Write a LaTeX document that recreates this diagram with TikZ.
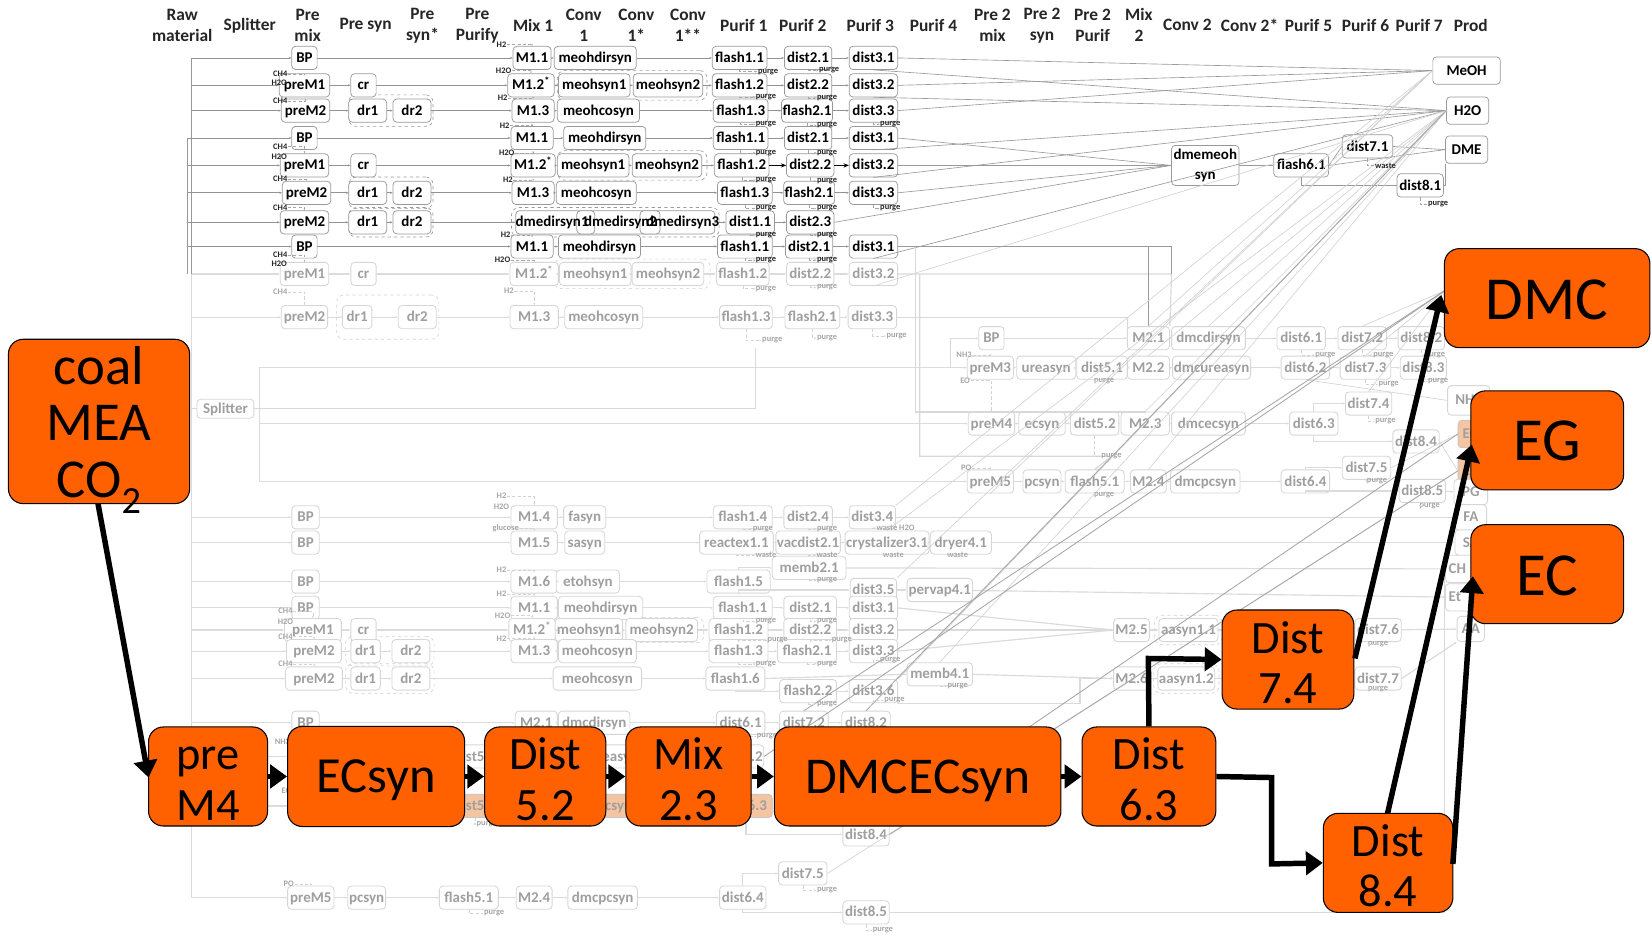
\documentclass[tikz,border=0pt]{standalone}
\usepackage{fontspec}
\setmainfont{Carlito}
\usetikzlibrary{arrows.meta}
\definecolor{bigorange}{HTML}{FF6000}
\definecolor{tint}{HTML}{F5C4A0}
\newcommand{\topup}[1]{\rule{0pt}{#1pt}}
\tikzset{
 box/.style={rectangle,rounded corners=3.5pt,fill=white,inner sep=1pt,minimum height=22pt,text height=10.5pt,text depth=1.8pt,font=\bfseries\fontsize{14.2}{16}\selectfont},
 dk/.style={box,draw=gray!80,text=black,line width=.7pt},
 fd/.style={box,draw=gray!32,text=gray!75,line width=.8pt},
 tn/.style={box,draw=gray!45,text=gray!75,fill=tint,line width=.8pt},
 dk line/.style={draw=gray!85,line width=.7pt,-{Stealth[length=2.5pt,width=2pt]}},
 fd line/.style={draw=gray!28,line width=1.1pt,-{Stealth[length=2.5pt,width=2pt]}},
 tn line/.style={fd line},
 dk diag/.style={draw=gray!80,line width=.6pt},
 fd diag/.style={draw=gray!35,line width=.6pt},
 md diag/.style={draw=gray!70,line width=.8pt},
 dk grp/.style={draw=gray!80,dashed,rounded corners=7pt,inner sep=0pt,line width=.6pt},
 fd grp/.style={draw=gray!35,dashed,rounded corners=7pt,inner sep=0pt,line width=.6pt},
 head/.style={align=center,font=\bfseries\fontsize{16.5}{20}\selectfont,text=black!85},
 dk lab/.style={inner sep=.5pt,font=\bfseries\fontsize{8}{8}\selectfont,text=black!85},
 fd lab/.style={inner sep=.5pt,font=\bfseries\fontsize{8}{8}\selectfont,text=gray!70},
 dk dsh/.style={draw=gray!70,densely dashed,line width=.4pt,-{Stealth[length=2pt,width=1.5pt]}},
 fd dsh/.style={draw=gray!35,densely dashed,line width=.4pt,-{Stealth[length=2pt,width=1.5pt]}},
 big/.style={rectangle,rounded corners=14pt,draw=black,line width=1pt,fill=bigorange,text=black,align=center,inner sep=0pt},
 thick arrow/.style={draw=black,line width=5.2pt,-{Triangle[length=16pt,width=22pt]}},
}
% name, style, start x, y, list of key/x/width/text
\newcommand{\frow}[5]{%
 \coordinate (#1-0) at (#3,#4);
 \foreach \rowN/\rowX/\rowW/\rowT [remember=\rowN as \rowP (initially 0)] in {#5}{
  \node[#2,minimum width=\rowW pt] (#1-\rowN) at (\rowX,#4) {\rowT};
  \draw[#2 line] (#1-\rowP) -- (#1-\rowN);
 }}
% style, list of name/x/y/target : input label with dashed elbow
\newcommand{\finp}[2]{%
 \foreach \labN/\labX/\labY/\labT/\labG in {#2}{
  \node[#1 lab] (\labN) at (\labX,\labY) {\labT};
  \draw[#1 dsh] (\labN.east) -| (\labG.north);
 }}
% style, list of name/x/y/text/source : purge label
\newcommand{\fpur}[2]{%
 \foreach \labN/\labX/\labY/\labT/\labG in {#2}{
  \node[#1 lab] (\labN) at (\labX,\labY) {\labT};
  \draw[#1 dsh] (\labG.south) |- (\labN.west);
 }}
\begin{document}
\begin{tikzpicture}[x=1pt,y=-1pt]
\useasboundingbox (0,0) rectangle (1568,890);
\fill[white] (0,0) rectangle (1568,890);

% headers
\foreach \hdN/\hdX/\hdT in {
 h1/173/{Raw\\material},h2/237/{Splitter},h3/292/{Pre\\mix},h4/347/{Pre syn},h5/401/{Pre\\syn*},h6/453/{Pre\\Purify},h7/506/{Mix 1},h8/554/{Conv\\1},h9/604/{Conv\\1*},h10/653/{Conv\\1**},h11/706/{Purif 1},h12/762/{Purif 2},h13/826/{Purif 3},h14/886/{Purif 4},h15/942/{Pre 2\\mix},h16/989/{Pre 2\\syn},h17/1037/{Pre 2\\Purif},h18/1081/{Mix\\2},h19/1127/{Conv 2},h20/1186/{Conv 2*},h21/1242/{Purif 5},h22/1296/{Purif 6},h23/1347/{Purif 7},h24/1396/{Prod}}{
 \node[head] (\hdN) at (\hdX,24) {\hdT};
}

% rails
\coordinate (railA) at (182,55);
\coordinate (railB) at (182,260);
\coordinate (railC) at (182,852);
\coordinate (railD) at (178,131);
\coordinate (railE) at (178,260);
\draw[draw=gray!28,line width=1.2pt] (railB) -- (railC);
\draw[draw=gray!80,line width=.7pt] (railA) -- (railB);
\draw[draw=gray!80,line width=.7pt] (railD) -- (railE);

% groups
\node[dk grp,minimum width=142pt,minimum height=28pt] (g2) at (600,81) {};
\node[dk grp,minimum width=80pt,minimum height=30pt] (g3) at (371,105) {};
\node[dk grp,minimum width=142pt,minimum height=28pt] (g5) at (600,157) {};
\node[dk grp,minimum width=80pt,minimum height=30pt] (g6) at (371,183) {};
\node[dk grp,minimum width=80pt,minimum height=28pt] (g7) at (371,211) {};
\node[dk grp,minimum width=197pt,minimum height=28pt] (g7b) at (584,211) {};
\node[fd grp,minimum width=148pt,minimum height=28pt] (g9) at (600,260) {};
\node[fd grp,minimum width=97pt,minimum height=42pt] (g10) at (368,301) {};
\node[fd grp,minimum width=148pt,minimum height=24pt] (g15) at (594,598) {};
\node[fd grp,minimum width=84pt,minimum height=28pt] (g16) at (370,618) {};
\node[fd grp,minimum width=84pt,minimum height=28pt] (g17) at (370,644) {};
\node[fd grp,minimum width=64pt,minimum height=28pt] (g18) at (1128,598) {};
\node[fd grp,minimum width=62pt,minimum height=28pt] (g19) at (1126,644) {};

% products
\node[dk,minimum width=64pt,minimum height=26pt] (MeOH) at (1392,67) {MeOH};
\node[dk,minimum width=40pt,minimum height=26pt] (H2O) at (1393,105) {H2O};
\node[dk,minimum width=40pt,minimum height=26pt] (DME) at (1392,142) {DME};
\node[fd,minimum width=40pt,minimum height=28pt] (NH3) at (1394,380) {NH3};
\node[tn,minimum width=24pt,minimum height=26pt] (pEG) at (1396,412) {EG};
\node[tn,minimum width=24pt,minimum height=26pt] (pEC) at (1396,447) {EC};
\node[fd,minimum width=32pt,minimum height=24pt] (PG) at (1396,467) {PG};
\node[fd,minimum width=30pt,minimum height=24pt] (FA) at (1396,491) {FA};
\node[fd,minimum width=30pt,minimum height=24pt] (SA) at (1396,515) {SA};
\node[fd,minimum width=42pt,minimum height=26pt,align=left,text width=36pt] (CH) at (1393,540) {CH};
\node[fd,minimum width=42pt,minimum height=26pt,align=left,text width=36pt] (Et) at (1393,567) {Et};
\node[fd,minimum width=26pt,minimum height=24pt] (AA) at (1396,597) {AA};

% dark rows
\frow{r1}{dk}{182}{55}{b/289/24/BP,m/505/36/M1.1,s/565/78/meohdirsyn,f/702/52/flash1.1,d/767/45/dist2.1,t/829/46/dist3.1}
\frow{r2}{dk}{182}{81}{p/289/48/preM1,c/345/24/cr,m/504/44/{M1.2\textsuperscript{*}},s/564/68/meohsyn1,u/634/66/meohsyn2,f/702/52/flash1.2,d/767/45/dist2.2,t/829/46/dist3.2}
\frow{r3}{dk}{182}{105}{p/290/46/preM2,c/349/36/dr1,u/391/36/dr2,m/506/40/M1.3,s/568/78/meohcosyn,f/703/52/flash1.3,d/766/46/flash2.1,t/829/46/dist3.3}
\frow{r4}{dk}{178}{131}{b/289/24/BP,m/505/40/M1.1,s/574/78/meohdirsyn,f/703/52/flash1.1,d/767/45/dist2.1,t/829/46/dist3.1}
\frow{r5}{dk}{178}{157}{p/289/46/preM1,c/345/24/cr,m/506/42/{M1.2\textsuperscript{*}},s/563/68/meohsyn1,u/633/66/meohsyn2,f/704/52/flash1.2,d/769/45/dist2.2,t/829/46/dist3.2}
\frow{r6}{dk}{178}{183}{p/291/46/preM2,c/349/36/dr1,u/391/36/dr2,m/506/40/M1.3,s/566/76/meohcosyn,f/707/52/flash1.3,d/768/46/flash2.1,t/829/46/dist3.3}
\frow{r7}{dk}{178}{211}{p/289/46/preM2,c/349/36/dr1,u/391/36/dr2,s/584/189/{},f/712/46/dist1.1,d/769/45/dist2.3}
\frow{r8}{dk}{178}{234}{b/289/24/BP,m/505/40/M1.1,s/569/78/meohdirsyn,f/707/52/flash1.1,d/768/45/dist2.1,t/829/46/dist3.1}
\node[dk,minimum width=17pt] (dm2) at (556,211) {};
\node[dk,minimum width=19pt] (dm3) at (617,211) {};
\node[dk lab,font=\bfseries\fontsize{14.2}{16}\selectfont,text=black] (dmt1) at (524,211) {dmedirsyn1};
\node[dk lab,font=\bfseries\fontsize{14.2}{16}\selectfont,text=black] (dmt2) at (589,211) {dmedirsyn2};
\node[dk lab,font=\bfseries\fontsize{14.2}{16}\selectfont,text=black] (dmt3) at (648,211) {dmedirsyn3};

% faded rows
\frow{r9}{fd}{182}{260}{p/289/46/preM1,c/345/24/cr,m/507/46/{M1.2\textsuperscript{*}},s/565/68/meohsyn1,u/634/68/meohsyn2,f/705/50/flash1.2,d/769/45/dist2.2,t/829/46/dist3.2}
\frow{r10}{fd}{182}{301}{p/289/44/preM2,c/339/28/dr1,u/396/36/dr2,m/507/46/M1.3,s/573/74/meohcosyn,f/708/50/flash1.3,d/771/52/flash2.1,t/828/46/dist3.3}
\frow{q1}{fd}{902}{321}{b/941/24/BP,m/1090/40/M2.1,s/1147/70/dmcdirsyn,f/1235/46/dist6.1,d/1293/46/dist7.2,t/1349/44/dist8.2}
\frow{q2}{fd}{246}{349}{p/940/44/preM3,a/993/56/ureasyn,e/1046/48/dist5.1,m/1090/40/M2.2,s/1150/74/dmcureasyn,f/1239/46/dist6.2,d/1296/48/dist7.3,t/1351/44/dist8.3}
\frow{q3}{fd}{246}{402}{p/941/44/preM4,a/989/44/ecsyn,e/1039/46/dist5.2,m/1087/46/M2.3,s/1147/70/dmcecsyn,f/1247/46/dist6.3}
\frow{q4}{fd}{246}{457}{p/940/44/preM5,a/989/36/pcsyn,e/1039/56/flash5.1,m/1090/34/M2.4,s/1144/66/dmcpcsyn,f/1239/46/dist6.4}
\node[fd,minimum width=44pt] (q3-7) at (1299,383) {dist7.4};
\node[fd,minimum width=44pt] (q3-8) at (1344,419) {dist8.4};
\node[fd,minimum width=46pt] (q4-7) at (1297,444) {dist7.5};
\node[fd,minimum width=44pt] (q4-8) at (1350,466) {dist8.5};

\frow{l1}{fd}{182}{491}{b/290/26/BP,m/507/44/M1.4,s/555/40/fasyn,f/705/56/flash1.4,d/767/46/dist2.4,t/828/44/dist3.4}
\frow{l2}{fd}{182}{515}{b/290/26/BP,m/507/44/M1.5,s/555/38/sasyn,f/699/70/reactex1.1,d/767/58/vacdist2.1,t/842/78/crystalizer3.1,w/912/58/dryer4.1}
\frow{l3}{fd}{182}{552}{b/290/26/BP,m/507/44/M1.6,s/558/60/etohsyn,f/701/60/flash1.5}
\node[fd,minimum width=70pt] (memb) at (768,539) {memb2.1};
\node[fd,minimum width=44pt] (l3-t) at (829,560) {dist3.5};
\node[fd,minimum width=62pt] (perv) at (892,560) {pervap4.1};
\draw[fd line] (l3-f.north) |- (memb.west);
\draw[fd line] (l3-f.south) |- (l3-t.west);
\draw[fd line] (l3-t) -- (perv);
\frow{l4}{fd}{182}{577}{b/290/26/BP,m/507/44/M1.1,s/570/80/meohdirsyn,f/705/56/flash1.1,d/769/50/dist2.1,t/829/46/dist3.1}
\frow{l5}{fd}{182}{598}{p/297/54/preM1,c/345/24/cr,m/505/44/{M1.2\textsuperscript{*}},s/559/64/meohsyn1,u/628/68/meohsyn2,f/701/56/flash1.2,d/769/50/dist2.2,t/829/46/dist3.2}
\frow{l6}{fd}{182}{618}{p/298/52/preM2,c/347/28/dr1,u/390/36/dr2,m/507/44/M1.3,s/567/74/meohcosyn,f/701/56/flash1.3,d/766/56/flash2.1,t/829/46/dist3.3}
\frow{l7}{fd}{182}{644}{p/298/54/preM2,c/347/28/dr1,u/390/36/dr2,s/567/84/meohcosyn,f/698/56/flash1.6}
\node[fd,minimum width=54pt] (fl22) at (767,656) {flash2.2};
\node[fd,minimum width=46pt] (d36) at (829,656) {dist3.6};
\node[fd,minimum width=62pt] (memb4) at (892,640) {memb4.1};
\draw[fd line] (l7-f.south) |- (fl22.west);
\draw[fd line] (fl22) -- (d36);
\draw[fd line] (l7-f.east) -- (memb4.west);
\frow{a5}{fd}{1074}{598}{m/1074/34/M2.5,s/1128/56/aasyn1.1,d/1308/44/dist7.6}
\frow{a6}{fd}{1074}{644}{m/1074/34/M2.6,s/1126/54/aasyn1.2,d/1308/44/dist7.7}
\draw[fd line] (memb4.east) -- (a6-m.west);
\coordinate (j6) at (1025,668);
\draw[fd line] (d36.south east) |- (j6) |- (a6-m.west);
\draw[fd line] (l4-t.east) -- (a5-m.west);
\draw[fd line] (l5-t.east) -- (a5-m.west);
\draw[fd line] (l6-t.east) -- (a5-m.west);
\draw[fd line] (a5-d) -- (AA);
\draw[fd line] (a6-d.east) -- (AA.south west);

\frow{v1}{fd}{182}{686}{b/290/26/BP,m/509/40/M2.1,s/564/68/dmcdirsyn,f/703/46/dist6.1,d/763/46/dist7.2,t/822/46/dist8.2}
\frow{v2}{fd}{182}{718}{e/451/46/dist5.1,s/570/74/dmcureasyn,f/704/40/dist6.2}
\frow{v3}{tn}{182}{765}{e/451/50/dist5.2,s/571/70/dmcecsyn,f/708/50/dist6.3}
\frow{v5}{fd}{182}{852}{p/295/44/preM5,a/348/36/pcsyn,e/445/56/flash5.1,m/507/34/M2.4,s/572/66/dmcpcsyn,f/705/44/dist6.4}
\node[fd,minimum width=44pt] (v3-8) at (822,792) {dist8.4};
\node[fd,minimum width=46pt] (v5-7) at (762,829) {dist7.5};
\node[fd,minimum width=44pt] (v5-8) at (822,866) {dist8.5};
\draw[fd line] (v3-f.south) |- (v3-8.west);
\draw[fd line] (v5-f.north) |- (v5-7.west);
\draw[fd line] (v5-f.south) |- (v5-8.west);

% splitter
\node[fd,minimum width=54pt,minimum height=18pt] (split) at (214,388) {Splitter};
\coordinate (s1) at (246,349);
\coordinate (s2) at (246,457);
\coordinate (s3) at (717,388);
\coordinate (s4) at (717,330);
\coordinate (s5) at (902,349);
\draw[draw=gray!30,line width=1.1pt] (s1) -- (s2);
\draw[draw=gray!30,line width=1.1pt] (split.east) -- (s3) -- (s4);
\draw[draw=gray!30,line width=1.1pt] (q1-0) -- (s5);

% dmemeoh section
\node[dk,minimum width=64pt,minimum height=38pt,text height=,text depth=,align=center,font=\bfseries\fontsize{14.2}{19}\selectfont] (dmem) at (1144,157) {dmemeoh\\syn};
\node[dk,minimum width=52pt] (fl61) at (1235,157) {flash6.1};
\node[dk,minimum width=48pt] (d71) at (1298,139) {dist7.1};
\node[dk,minimum width=44pt] (d81) at (1348,176) {dist8.1};
\draw[dk diag] (dmem) -- (fl61);
\draw[dk diag] (fl61.east) -- (d71.west);
\draw[dk diag] (fl61.south) |- (d81.west);
\draw[dk diag] (d71.east) -- (DME.west);
\draw[dk diag] (fl61.east) -- (DME.west);
\draw[dk diag] (d81.east) -| (DME.south west);

% upper diagonals
\foreach \a/\b in {r1-t.east/MeOH.west,r2-t.east/MeOH.west,r3-t.east/MeOH.west,r1-t.south/H2O.west,r2-t.south/H2O.west,r4-t.south/H2O.west,r5-t.south/H2O.west,r8-t.south/H2O.west,r4-t.east/dmem.west,r5-t.east/dmem.west,r6-t.east/dmem.west,r7-d.east/dmem.west}{
 \draw[dk diag] (\a) -- (\b);
}
\draw[fd diag] (r9-t.south) -- (H2O.west);
\draw[-{Stealth[length=5pt,width=4pt]},draw=black,line width=.8pt] (r5-f) -- (r5-d);
\draw[-{Stealth[length=5pt,width=4pt]},draw=black,line width=.8pt] (r5-d) -- (r5-t);

% middle trunks
\coordinate (c1) at (1112,234);
\coordinate (c2) at (1112,260);
\coordinate (c3) at (1090,234);
\coordinate (c4) at (869,234);
\coordinate (c5) at (869,391);
\coordinate (c6) at (1087,391);
\coordinate (c7) at (873,260);
\coordinate (c8) at (873,433);
\coordinate (c9) at (1055,433);
\coordinate (c10) at (1112,260);
\coordinate (c11) at (1070,301);
\draw[draw=gray!30,line width=1.1pt] (c4) -- (c5) -- (c6) -- (q3-m.north);
\draw[draw=gray!30,line width=1.1pt] (c7) -- (c8) -- (c9) -- (q4-e.north);
\draw[draw=gray!30,line width=1.1pt] (r9-t.east) -- (c10) -- (q1-m.north east);
\draw[draw=gray!30,line width=1.1pt] (r10-t.east) -- (c11) |- (q1-m.west);
\draw[dk diag] (r8-t.east) -- (c1) -- (c2);
\draw[dk diag] (c3) -- (q1-m.north);

% right section connections
\draw[fd line] (q3-f.north) |- (q3-7.west);
\draw[fd line] (q3-f.south) |- (q3-8.west);
\draw[fd line] (q4-f.north) |- (q4-7.west);
\draw[fd line] (q4-f.south) |- (q4-8.west);
\draw[fd line] (q4-8) -- (PG);
\draw[fd diag] (q2-f.south) -- (NH3.west);
\draw[fd diag] (q3-8.east) -- (pEC.west);
\draw[fd diag] (q4-7.east) -- (pEG.west);
\coordinate (dmcL) at (1371,276);
\draw[fd diag] (q1-d.north) -- (dmcL);
\draw[fd diag] (q2-d.north) -- (dmcL);
\draw[fd diag] (q3-7.north) -- (dmcL);
\draw[fd line] (l1-t) -- (FA);
\draw[fd line] (l2-w) -- (SA);
\draw[fd line] (memb) -- (CH);
\draw[fd line] (perv) -- (Et);
\coordinate (k1) at (1371,866);
\coordinate (k2) at (1371,540);
\draw[draw=gray!30,line width=1.1pt] (v5-8.east) -- (k1) -- (k2);

% long fan lines
\foreach \a/\b in {q1-m.north/MeOH.west,l3-t.north east/MeOH.west,q4-p.south/MeOH.west,l1-t.north east/MeOH.west,q1-s.north/H2O.west,q2-m.north/H2O.west,q3-m.north/H2O.west,l2-t.north/H2O.west,q4-m.north/H2O.west,d36.north east/H2O.west,memb4.north/H2O.west,v5-7.east/pEC.west}{
 \draw[fd diag] (\a) -- (\b);
}
\foreach \a/\b in {v1-t.north/H2O.west,v1-d.north/dmcL,v2-f.east/dmcL,v3-8.north east/pEG.west,v3-8.east/pEC.west}{
 \draw[md diag] (\a) -- (\b);
}

% inputs
\finp{dk}{i1/476/42/H2/r1-m,i2/266/70/CH4/r2-p,i3/478/67/H2O/r2-m,i4/266/96/CH4/r3-p,i5/477/93/H2/r3-m,i6/479/119/H2/r4-m,i7/266/139/CH4/r5-p,i8/481/145/H2O/r5-m,i9/266/170/CH4/r6-p,i10/482/171/H2/r6-m,i11/266/197/CH4/r7-p,i12/480/223/H2/r8-m,i13/266/242/CH4/r9-p,i14/477/247/H2O/r9-m}
\node[dk lab] (i15) at (265,79) {H2O};
\node[dk lab] (i16) at (265,149) {H2O};
\node[dk lab] (i17) at (265,250) {H2O};
\finp{fd}{j1/266/277/CH4/r10-p,j2/483/276/H2/r10-m,j3/915/337/NH3/q2-p,j5/917/444/PO/q4-p,j6a/476/471/H2/l1-m,j7/480/501/glucose/l2-m,j8/476/541/H2/l3-m,j9/476/564/H2/l4-m,j10/477/584/H2O/l5-m,j11/476/606/H2/l6-m,j12/271/580/CH4/l5-p,j13/271/604/CH4/l6-p,j14/271/630/CH4/l7-p,j15/274/839/PO/v5-p}
\node[fd lab] (j4) at (916,361) {EO};
\draw[fd dsh] (j4.east) -| (q3-p.north);
\node[fd lab] (j16) at (476,481) {H2O};
\node[fd lab] (j17) at (271,590) {H2O};
\node[fd lab] (j18) at (268,704) {NH3};
\node[fd lab] (j19) at (272,751) {EO};

% purge labels
\fpur{dk}{p1/729/68/purge/r1-f,p2/787/67/purge/r1-d,p3/727/92/purge/r2-f,p4/785/93/purge/r2-d,p5/727/118/purge/r3-f,p6/785/119/purge/r3-d,p7/845/118/purge/r3-t,p8/727/145/purge/r4-f,p9/785/145/purge/r4-d,p10/727/171/purge/r5-f,p11/785/172/purge/r5-d,p12/727/198/purge/r6-f,p13/785/198/purge/r6-d,p14/845/198/purge/r6-t,p15/727/223/purge/r7-f,p16/785/223/purge/r7-d,p17/727/247/purge/r8-f,p18/785/247/purge/r8-d,p19/1315/157/waste/d71,p20/1365/194/purge/d81}
\fpur{fd}{w1/727/274/purge/r9-f,w2/785/273/purge/r9-d,w3/733/323/purge/r10-f,w4/785/321/purge/r10-d,w5/851/319/purge/r10-t,w6/1048/362/purge/q2-e,w7/1258/337/purge/q1-f,w8/1313/337/purge/q1-d,w9/1362/337/purge/q1-t,w10/1318/365/purge/q2-d,w11/1365/362/purge/q2-t,w12/1315/400/purge/q3-7,w13/1055/433/purge/q3-e,w14/1048/470/purge/q4-e,w15/1307/457/purge/q4-7,w16/1357/480/purge/q4-8,w17/850/501/{waste H2O}/l1-t,w18/848/527/waste/l2-t,w19/909/527/waste/l2-w,w20/724/502/purge/l1-f,w21/785/502/purge/l1-d,w22/727/527/waste/l2-f,w23/785/527/waste/l2-d,w24/785/551/purge/memb,w25/727/590/purge/l4-f,w26/785/590/purge/l4-d,w27/738/608/purge/l5-f,w28/799/608/purge/l5-d,w29/727/630/purge/l6-f,w30/785/630/purge/l6-d,w31/845/627/purge/l6-t,w32/785/668/purge/fl22,w33/849/665/purge/d36,w34/909/651/purge/memb4,w35/1308/611/purge/a5-d,w36/1308/654/purge/a6-d,w37/838/883/purge/v5-8,w38/785/845/purge/v5-7,w39/469/867/purge/v5-e,w40/462/782/purge/v3-e,w41/728/699/purge/v1-f}

% big boxes
\node[big,minimum width=172pt,minimum height=156pt,inner ysep=-14pt,font=\fontsize{52}{54}\selectfont] (coal) at (94,400) {\topup{52}coal\\MEA\\CO\textsubscript{2}};
\node[big,minimum width=195pt,minimum height=94pt,font=\fontsize{58}{60}\selectfont] (DMC) at (1468.5,283) {\topup{41}DMC};
\node[big,minimum width=145pt,minimum height=94pt,font=\fontsize{58}{60}\selectfont] (EG) at (1468.5,418) {\topup{39}EG};
\node[big,minimum width=145pt,minimum height=94pt,font=\fontsize{58}{60}\selectfont] (EC) at (1468.5,545) {\topup{41}EC};
\node[big,minimum width=113pt,minimum height=94pt,font=\fontsize{44}{48}\selectfont] (preM) at (197.5,737) {\topup{35}pre\\M4};
\node[big,minimum width=168pt,minimum height=95pt,font=\fontsize{48}{49}\selectfont] (ECs) at (357,737) {\topup{39}ECsyn};
\node[big,minimum width=115pt,minimum height=94pt,font=\fontsize{44}{48}\selectfont] (D52) at (517.5,737) {\topup{36}Dist\\5.2};
\node[big,minimum width=119pt,minimum height=94pt,font=\fontsize{44}{48}\selectfont] (M23) at (653.5,737) {\topup{36}Mix\\2.3};
\node[big,minimum width=272pt,minimum height=94pt,font=\fontsize{49}{49}\selectfont] (DEs) at (871,737) {\topup{41}DMCECsyn};
\node[big,minimum width=127pt,minimum height=94pt,font=\fontsize{44}{48}\selectfont] (D63) at (1090.5,737) {\topup{36}Dist\\6.3};
\node[big,minimum width=125pt,minimum height=94pt,font=\fontsize{44}{48}\selectfont] (D74) at (1222.5,626) {\topup{36}Dist\\7.4};
\node[big,minimum width=123pt,minimum height=94pt,font=\fontsize{44}{48}\selectfont] (D84) at (1317.5,819) {\topup{36}Dist\\8.4};
\draw[draw=gray!30,line width=1.1pt] (coal.east |- split.west) -- (split.west);

% thick arrows
\coordinate (t1) at (93,478);
\coordinate (t2) at (141,738);
\coordinate (t3) at (1090,625);
\coordinate (t4) at (1207,738);
\coordinate (t5) at (1207,820);
\coordinate (t6) at (1286,625);
\coordinate (t7) at (1368,280);
\coordinate (t8) at (1317,772);
\coordinate (t9) at (1397,422);
\coordinate (t10) at (1379,820);
\coordinate (t11) at (1398,547);
\draw[thick arrow] (t1) -- (t2);
\draw[thick arrow] (preM.east) -- (ECs.west);
\draw[thick arrow] (ECs.east) -- (D52.west);
\draw[thick arrow] (D52.east) -- (M23.west);
\draw[thick arrow] (M23.east) -- (DEs.west);
\draw[thick arrow] (DEs.east) -- (D63.west);
\draw[thick arrow,line join=miter] (D63.north) -- (t3) -- (D74.west);
\draw[thick arrow,line join=miter] (D63.east) -- (t4) -- (t5) -- (D84.west);
\draw[thick arrow] (t6) -- (t7);
\draw[thick arrow] (t8) -- (t9);
\draw[thick arrow] (t10) -- (t11);
\end{tikzpicture}
\end{document}
